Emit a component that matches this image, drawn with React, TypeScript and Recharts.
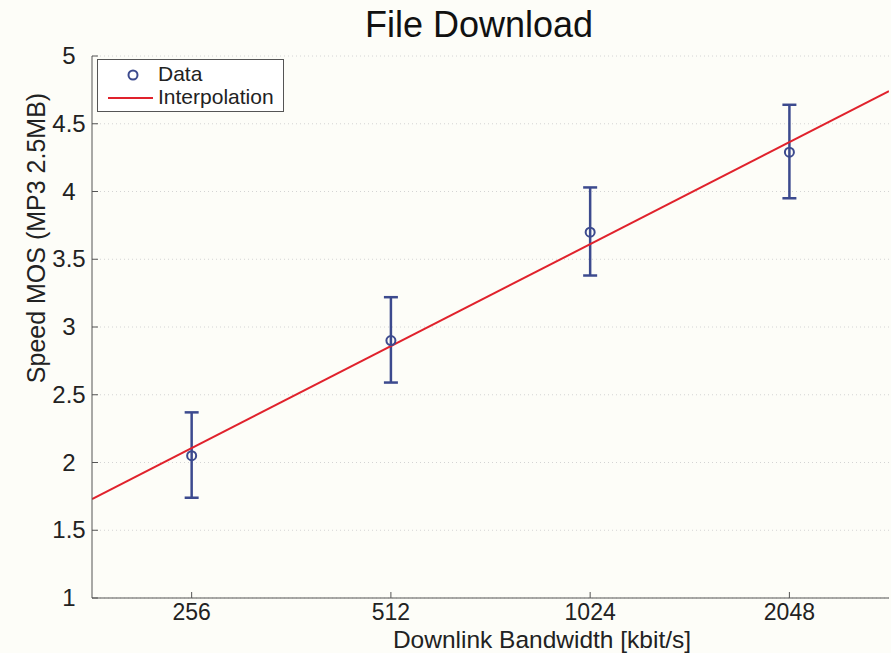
import React from 'react'
import { ComposedChart, Scatter, Line, XAxis, YAxis, CartesianGrid, ErrorBar, Legend, Label } from 'recharts'

const bandwidths = [256, 512, 1024, 2048]
const mosMean = [2.05, 2.9, 3.7, 4.29]
const mosLow = [1.74, 2.59, 3.38, 3.95]
const mosHigh = [2.37, 3.22, 4.03, 4.64]

const fitX = [181, 2896]
const fitY = [1.73, 4.74]

const xTicks = [256, 512, 1024, 2048]
const yTicks = [1, 1.5, 2, 2.5, 3, 3.5, 4, 4.5, 5]

const BLUE = '#3c4a8e'
const RED = '#e0222c'
const FONT = '"Liberation Sans", Arial, sans-serif'

const pointData = bandwidths.map((x, i) => ({
  x,
  y: mosMean[i],
  err: [mosMean[i] - mosLow[i], mosHigh[i] - mosMean[i]],
}))
const fitData = fitX.map((x, i) => ({ x, y: fitY[i] }))

function YTick({ y, payload }: any) {
  return (
    <text x={69} y={y} dy={8} textAnchor="middle" fontSize={24} fontFamily={FONT} fill="#222">
      {payload.value}
    </text>
  )
}

function XTick({ x, payload }: any) {
  return (
    <text x={x} y={620} textAnchor="middle" fontSize={23} fontFamily={FONT} fill="#222">
      {payload.value}
    </text>
  )
}

function Dot({ cx, cy }: any) {
  return <circle cx={cx} cy={cy} r={4.5} fill="none" stroke={BLUE} strokeWidth={2} />
}

function LegendBox() {
  return (
    <div style={{
      width: 185, height: 51, border: '1px solid #555', background: '#fff',
      fontFamily: FONT, fontSize: 21, color: '#222', position: 'relative',
    }}>
      <svg width={60} height={51} style={{ position: 'absolute', left: 0, top: 0 }}>
        <circle cx={35} cy={15} r={4.5} fill="none" stroke={BLUE} strokeWidth={2} />
        <line x1={10} y1={38} x2={55} y2={38} stroke={RED} strokeWidth={2} />
      </svg>
      <div style={{ position: 'absolute', left: 60, top: 2, lineHeight: '24px' }}>Data</div>
      <div style={{ position: 'absolute', left: 60, top: 25, lineHeight: '24px' }}>Interpolation</div>
    </div>
  )
}

export default function App() {
  return (
    <div style={{ position: 'absolute', left: 0, top: 0, width: 891, height: 653, background: '#fdfdf8' }}>
      <div style={{
        position: 'absolute', left: 0, top: 7, width: 958, textAlign: 'center',
        fontFamily: FONT, fontSize: 36, lineHeight: '36px', color: '#111',
      }}>
        File Download
      </div>
      <ComposedChart width={891} height={653} margin={{ top: 56, right: 2, bottom: 0, left: 0 }}>
        <CartesianGrid vertical={false} stroke="#d4d4d4" strokeDasharray="1 3" />
        <XAxis
          dataKey="x" type="number" scale="log" domain={fitX} ticks={xTicks} allowDataOverflow
          height={55} stroke="#555" tickSize={-6} tickMargin={6} tick={<XTick />}
        >
          <Label
            content={() => (
              <text x={542} y={648} textAnchor="middle" fontSize={24.5} fontFamily={FONT} fill="#222">
                Downlink Bandwidth [kbit/s]
              </text>
            )}
          />
        </XAxis>
        <XAxis
          xAxisId="top" orientation="top" type="number" scale="log" domain={fitX} ticks={xTicks}
          allowDataOverflow height={0} stroke="#555" tickSize={-6} tick={false}
        />
        <YAxis
          type="number" domain={[1, 5]} ticks={yTicks} width={92} stroke="#555"
          tickSize={-6} tickMargin={6} tick={<YTick />}
        >
          <Label
            content={() => (
              <text x={45} y={238} transform="rotate(-90 45 238)" textAnchor="middle" fontSize={25} fontFamily={FONT} fill="#222">
                Speed MOS (MP3 2.5MB)
              </text>
            )}
          />
        </YAxis>
        <YAxis
          yAxisId="right" orientation="right" type="number" domain={[1, 5]} ticks={yTicks}
          width={0} stroke="#555" tickSize={-6} tick={false}
        />
        <Legend
          layout="vertical" align="center" verticalAlign="middle"
          wrapperStyle={{ left: 97, top: 59, width: 187, height: 53 }}
          content={() => <LegendBox />}
        />
        <Scatter data={pointData} dataKey="y" shape={<Dot />} isAnimationActive={false}>
          <ErrorBar dataKey="err" direction="y" width={7} stroke={BLUE} strokeWidth={2.5} />
        </Scatter>
        <Line data={fitData} dataKey="y" stroke={RED} strokeWidth={2} dot={false} activeDot={false} isAnimationActive={false} />
      </ComposedChart>
    </div>
  )
}
